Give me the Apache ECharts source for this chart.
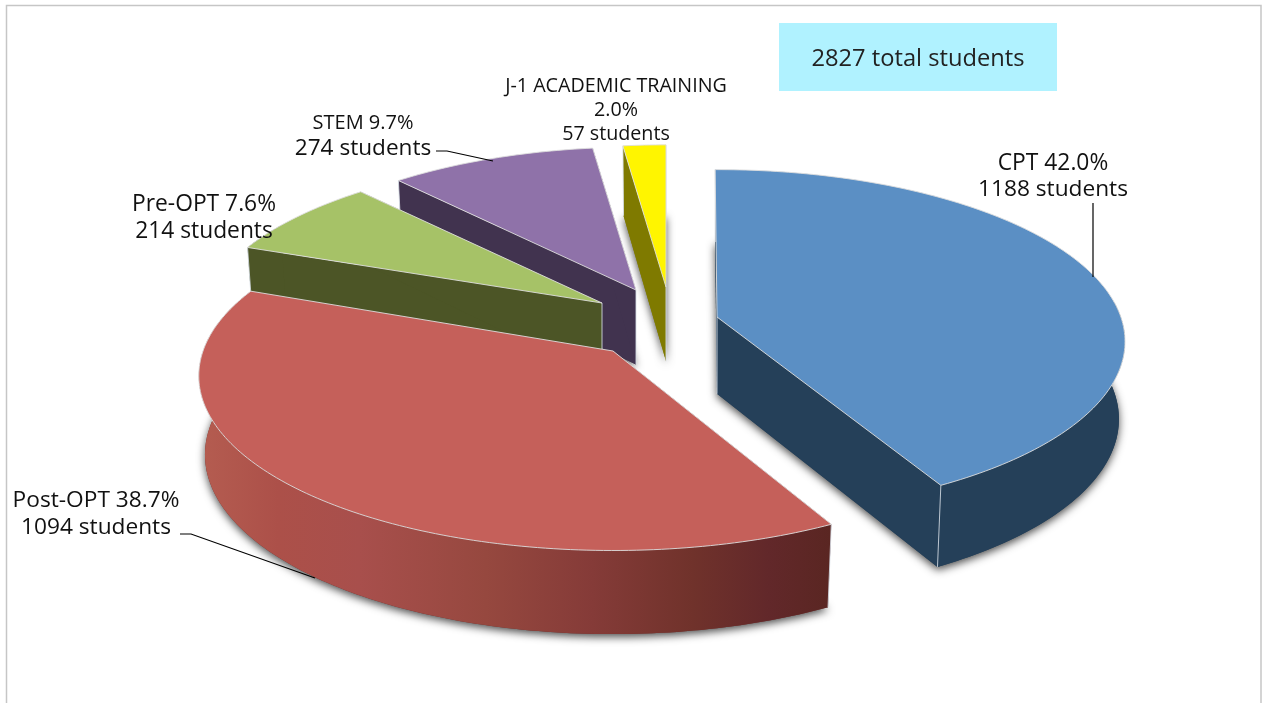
<!DOCTYPE html>
<html>
<head>
<meta charset="utf-8">
<style>html,body{margin:0;padding:0;background:#fff}#c{width:1264px;height:703px}</style>
<script src="https://cdn.jsdelivr.net/npm/echarts@6/dist/echarts.min.js"></script>
</head>
<body>
<div id="c"></div>
<script>
// ---- data ----
const categories = ['CPT', 'Post-OPT', 'Pre-OPT', 'STEM', 'J-1 ACADEMIC TRAINING'];
const students = [1188, 1094, 214, 274, 57];
const totalStudents = 2827;
const summaryText = totalStudents + ' total students';

// ---- styles ----
const topColors = ['#5b8fc4', '#c5605a', '#a6c267', '#8f72a9', '#fff500'];
const wallColors = ['#254059', '#6e302c', '#4c5526', '#41334f', '#7f7a00'];
const postWallStops = [
  [0, '#b45c50'], [0.12, '#ac5049'], [0.25, '#a84f4c'], [0.45, '#96483f'],
  [0.62, '#853b38'], [0.78, '#70322b'], [0.9, '#62282a'], [1, '#5a2622']
];

// ---- layout of the exploded 3D pie ----
const apexX = [717, 613, 602, 636, 666];
const apexY = [317, 351, 303, 290, 287];
const sliceScale = [0.985, 1, 0.97, 0.955, 0.95];
const angleShift = [-0.3, 1, 0, 0, 0];
const RX = 410, RY = 171, PERSPECTIVE = 1 / 7, DEPTH = 78, FLOOR_SHRINK = 0.985;
const labelCenterX = [1053, 96, 204, 363, 616];
const labelFirstY = [164, 501, 205, 123, 86];
const labelLineGap = [26, 27, 27, 26, 24];
const labelSizes = [[22.8, 22.7], [22.7, 22.7], [22.8, 22.8], [20, 22.6], [19.7, 19.7, 19.7]];
const leaderLines = [
  [[1093, 203], [1093, 277]],
  [[180, 534], [191, 534], [315, 578]],
  null,
  [[436, 151], [447, 151], [493, 161]],
  null
];
const FONT = '"Open Sans", sans-serif';

let cum = 0;
const startAngles = students.map((v, i) => { const a = cum; cum += v; return a / totalStudents * 360 + angleShift[i]; });
const endAngles = students.map((v, i) => startAngles[i] + v / totalStudents * 360);

function proj(i, deg, floor) {
  const t = deg * Math.PI / 180;
  const u = Math.sin(t), v = -Math.cos(t), den = 1 - PERSPECTIVE * v;
  const s = sliceScale[i];
  const sx = RX * s * u / den, sy = RY * s * v / den;
  if (!floor) return [apexX[i] + sx, apexY[i] + sy];
  return [apexX[i] + sx * FLOOR_SHRINK, apexY[i] + sy + DEPTH * s / Math.pow(den, 0.45)];
}
function arc(i, a0, a1, floor) {
  const pts = [], n = Math.max(2, Math.ceil(a1 - a0));
  for (let k = 0; k <= n; k++) pts.push(proj(i, a0 + (a1 - a0) * k / n, floor));
  return pts;
}
function apex(i, floor) {
  return floor ? [apexX[i], apexY[i] + DEPTH * sliceScale[i]] : [apexX[i], apexY[i]];
}

function renderSlice(params, api) {
  const i = api.value(0);
  const a0 = startAngles[i], a1 = endAngles[i];
  const base = (5 - i) * 10;
  let wallFill = wallColors[i];
  if (i === 1) {
    wallFill = new echarts.graphic.LinearGradient(apexX[i] - RX, 0, apexX[i] + 218, 0,
      postWallStops.map(s => ({ offset: s[0], color: s[1] })), true);
  }
  const kids = [];
  const poly = (points, style, z) => kids.push({ type: 'polygon', z2: base + z, shape: { points }, style, silent: true });
  const seam = (p, q) => kids.push({ type: 'line', z2: base + 4, shape: { x1: p[0], y1: p[1], x2: q[0], y2: q[1] },
    style: { stroke: 'rgba(215,222,230,0.85)', lineWidth: 1 }, silent: true });

  // floor of the slice: only this face casts the soft shadow
  poly([apex(i, true)].concat(arc(i, a0, a1, true)), {
    fill: wallColors[i], shadowBlur: 9, shadowColor: 'rgba(0,0,0,0.7)', shadowOffsetX: 0, shadowOffsetY: 3
  }, 0);
  // cut walls
  [a0, a1].forEach(a => {
    poly([apex(i, false), proj(i, a, false), proj(i, a, true), apex(i, true)], { fill: wallColors[i] }, 1);
  });
  // outer curved wall (front part only)
  const lo = Math.max(a0, 85), hi = Math.min(a1, 300);
  if (hi > lo) {
    poly(arc(i, lo, hi, false).concat(arc(i, lo, hi, true).reverse()), { fill: wallFill }, 2);
  }
  seam(apex(i, false), apex(i, true));
  seam(proj(i, a0, false), proj(i, a0, true));
  seam(proj(i, a1, false), proj(i, a1, true));
  // top face
  poly([apex(i, false)].concat(arc(i, a0, a1, false)), {
    fill: topColors[i], stroke: 'rgba(222,222,222,0.9)', lineWidth: 1, lineJoin: 'round'
  }, 5);

  // label
  const pct = (students[i] / totalStudents * 100).toFixed(1) + '%';
  const count = students[i] + ' students';
  const lines = labelSizes[i].length === 3 ? [categories[i], pct, count] : [categories[i] + ' ' + pct, count];
  lines.forEach((text, k) => {
    kids.push({ type: 'text', z2: 100, silent: true, style: {
      x: labelCenterX[i], y: labelFirstY[i] + k * labelLineGap[i], text,
      align: 'center', verticalAlign: 'middle', fill: '#111',
      font: labelSizes[i][k] + 'px ' + FONT
    }});
  });
  if (leaderLines[i]) {
    kids.push({ type: 'polyline', z2: 100, silent: true, shape: { points: leaderLines[i] },
      style: { stroke: '#000', lineWidth: 1.2, fill: 'none' } });
  }
  return { type: 'group', children: kids };
}

const chart = echarts.init(document.getElementById('c'), null, { renderer: 'canvas' });
chart.setOption({
  animation: false,
  backgroundColor: '#fff',
  tooltip: { show: false },
  graphic: [
    { type: 'rect', z: -1, silent: true, shape: { x: 6.5, y: 5.5, width: 1254.5, height: 720 },
      style: { fill: 'none', stroke: '#c6c6c6', lineWidth: 1.5 } },
    { type: 'rect', silent: true, shape: { x: 779, y: 23, width: 278, height: 68 }, style: { fill: '#b0f2ff' } },
    { type: 'text', silent: true, style: { x: 918, y: 59, text: summaryText, align: 'center', verticalAlign: 'middle',
      fill: '#222', font: '23.7px ' + FONT } }
  ],
  series: [{
    type: 'custom',
    coordinateSystem: 'none',
    renderItem: renderSlice,
    data: categories.map((c, i) => ({ name: c, value: [i, students[i]] }))
  }]
});
</script>
</body>
</html>
